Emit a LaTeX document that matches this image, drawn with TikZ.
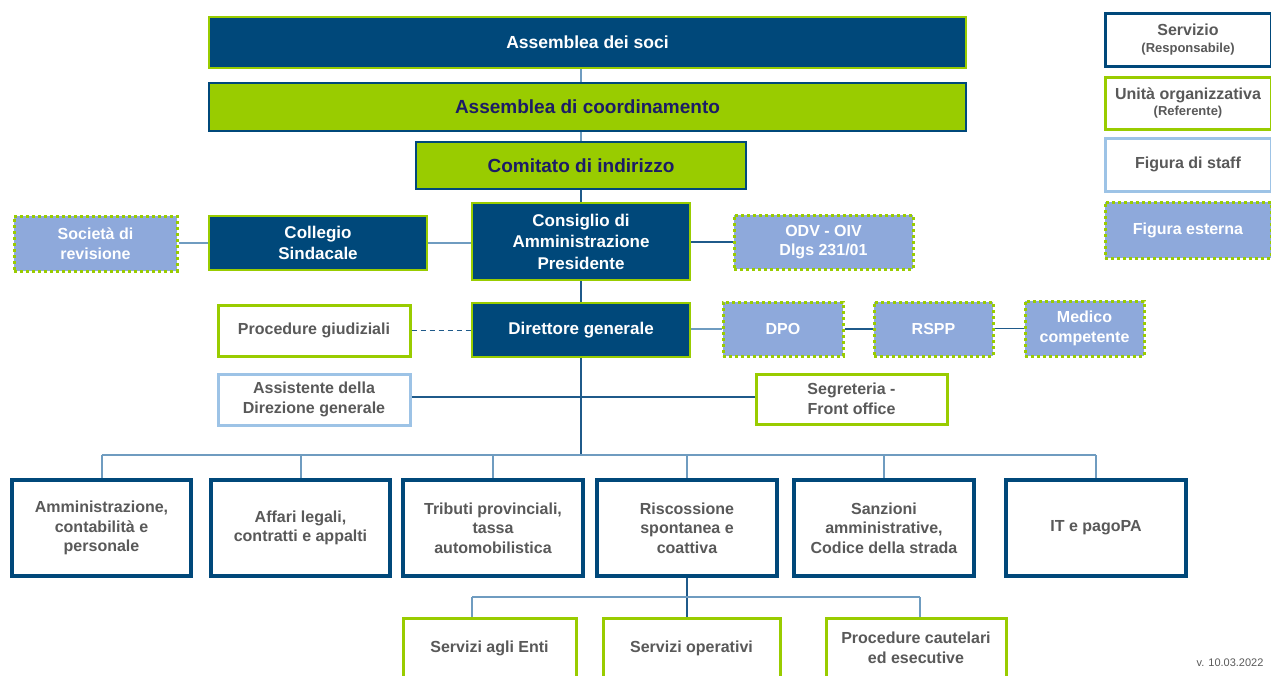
\documentclass[tikz,border=0pt]{standalone}
\usepackage{fontspec}
\setmainfont{Liberation Sans}
\definecolor{cnavy}{HTML}{00487A}
\definecolor{cgreen}{HTML}{99CC00}
\definecolor{cext}{HTML}{8EA9DB}
\definecolor{cstaff}{HTML}{9DC3E6}
\definecolor{ctext}{HTML}{595959}
\definecolor{cgtext}{HTML}{1C1C66}
\definecolor{cline}{HTML}{1F5A8A}
\definecolor{clight}{HTML}{6F9CC0}
\newcommand{\fs}[2]{\fontsize{#1}{#2}\selectfont}
\begin{document}
\begin{tikzpicture}[x=1pt,y=-1pt,
  every node/.style={inner sep=0pt, align=center},
  navybox/.style={draw=cgreen, fill=cnavy, line width=2pt, text=white, font=\bfseries\fs{17}{20}},
  greenbox/.style={draw=cnavy, fill=cgreen, line width=2pt, text=cgtext, font=\bfseries\fs{19}{22}},
  extbox/.style={draw=cgreen, fill=cext, line width=3pt, dash pattern=on 3pt off 3pt, text=white, font=\bfseries\fs{16}{19.5}},
  servbox/.style={draw=cnavy, fill=white, line width=4pt, text=ctext, font=\bfseries\fs{16}{19.5}},
  unitbox/.style={draw=cgreen, fill=white, line width=3pt, text=ctext, font=\bfseries\fs{16}{19.5}},
  staffbox/.style={draw=cstaff, fill=white, line width=3pt, text=ctext, font=\bfseries\fs{16}{19.5}},
  conn/.style={draw=cline, line width=1.8pt},
  lconn/.style={draw=clight, line width=2pt}
]
\useasboundingbox (0,0) rectangle (1271,675);

\coordinate (bj) at (581,455);
\coordinate (sl) at (472,597);
\coordinate (sr) at (920,597);

% top governance
\node[navybox, minimum width=757, minimum height=51, font=\bfseries\fs{17.5}{20}] (soci) at (587.5,42.5) {Assemblea dei soci};
\node[greenbox, minimum width=757, minimum height=48] (coord) at (587.5,107) {Assemblea di coordinamento};
\node[greenbox, minimum width=330, minimum height=47] (comitato) at (581,165.5) {Comitato di indirizzo};

\node[extbox, minimum width=163, minimum height=55] (soc) at (95.5,243.5) {Società di\\revisione};
\node[navybox, minimum width=218, minimum height=54, font=\bfseries\fs{17}{21}] (coll) at (318,243) {Collegio\\Sindacale};
\node[navybox, minimum width=218, minimum height=77, font=\bfseries\fs{17}{21.5}] (cda) at (581,241.5) {Consiglio di\\Amministrazione\\Presidente};
\node[extbox, minimum width=179, minimum height=54] (odv) at (823.5,242) {ODV - OIV\\Dlgs 231/01};

\node[unitbox, minimum width=192, minimum height=51] (pg) at (314,330.5) {Procedure giudiziali};
\node[navybox, minimum width=218, minimum height=54] (dg) at (581,330) {Direttore generale};
\node[extbox, minimum width=120, minimum height=54] (dpo) at (783,329) {DPO};
\node[extbox, minimum width=119, minimum height=54] (rspp) at (933.5,329) {RSPP};
\node[extbox, minimum width=119, minimum height=55] (med) at (1084.5,328.5) {Medico\\competente};

\node[staffbox, minimum width=192, minimum height=51] (ass) at (314,399.5) {Assistente della\\Direzione generale};
\node[unitbox, minimum width=191, minimum height=50] (seg) at (851.5,399) {Segreteria -\\Front office};

% bottom services
\node[servbox, minimum width=179, minimum height=96] (b1) at (101.5,528) {Amministrazione,\\contabilità e\\personale};
\node[servbox, minimum width=179, minimum height=96] (b2) at (300.5,528) {Affari legali,\\contratti e appalti};
\node[servbox, minimum width=180, minimum height=96] (b3) at (493,528) {Tributi provinciali,\\tassa\\automobilistica};
\node[servbox, minimum width=180, minimum height=96] (b4) at (687,528) {Riscossione\\spontanea e\\coattiva};
\node[servbox, minimum width=180, minimum height=96] (b5) at (884,528) {Sanzioni\\amministrative,\\Codice della strada};
\node[servbox, minimum width=180, minimum height=96] (b6) at (1096,528) {IT e pagoPA};

\node[unitbox, minimum width=173, minimum height=60] (sae) at (489.5,648) {Servizi agli Enti};
\node[unitbox, minimum width=177, minimum height=60] (sop) at (691.5,648) {Servizi operativi};
\node[unitbox, minimum width=180, minimum height=60] (pce) at (916,648) {Procedure cautelari\\ed esecutive};

% legend
\node[servbox, line width=3pt, minimum width=166, minimum height=53] (lserv) at (1188,39.5) {Servizio\\[-3pt]{\fs{13}{15}(Responsabile)}};
\node[unitbox, minimum width=166, minimum height=52] (lunit) at (1188,103) {Unità organizzativa\\[-3pt]{\fs{13}{15}(Referente)}};
\node[staffbox, minimum width=166, minimum height=53] (lstaff) at (1188,164.5) {Figura di staff};
\node[extbox, minimum width=166, minimum height=56] (lext) at (1188,230) {Figura esterna};

\node[text=ctext, font=\fs{11}{13}] (ver) at (1230,663) {v. 10.03.2022};

% connectors
\draw[lconn] (soci.south -| comitato) -- (coord.north -| comitato);
\draw[lconn] (coord.south -| comitato) -- (comitato.north);
\draw[conn] (comitato.south) -- (cda.north);
\draw[conn] (cda.south) -- (dg.north);
\draw[conn] (dg.south) -- (bj);
\draw[lconn] (soc.east |- coll.west) -- (coll.west);
\draw[lconn] (coll.east) -- (coll.east -| cda.west);
\draw[conn] (cda.east |- odv.west) -- (odv.west);
\draw[conn, dash pattern=on 5pt off 4pt] (pg.east) -- (pg.east -| dg.west);
\draw[lconn] (dg.east |- dpo.west) -- (dpo.west);
\draw[conn] (dpo.east) -- (rspp.west);
\draw[conn] (rspp.east |- med.west) -- (med.west);
\draw[conn] (ass.east |- 0,397) -- (seg.west |- 0,397);
\draw[lconn] (b1.north |- bj) -- (b6.north |- bj);
\foreach \b in {b1,b2,b3,b4,b5,b6}{\draw[lconn] (\b.north |- bj) -- (\b.north);}
\draw[conn] (b4.south) -- (b4.south |- sop.north);
\draw[lconn] (sl) -- (sr);
\draw[lconn] (sl) -- (sl |- sae.north);
\draw[lconn] (sr) -- (sr |- pce.north);
\end{tikzpicture}
\end{document}
